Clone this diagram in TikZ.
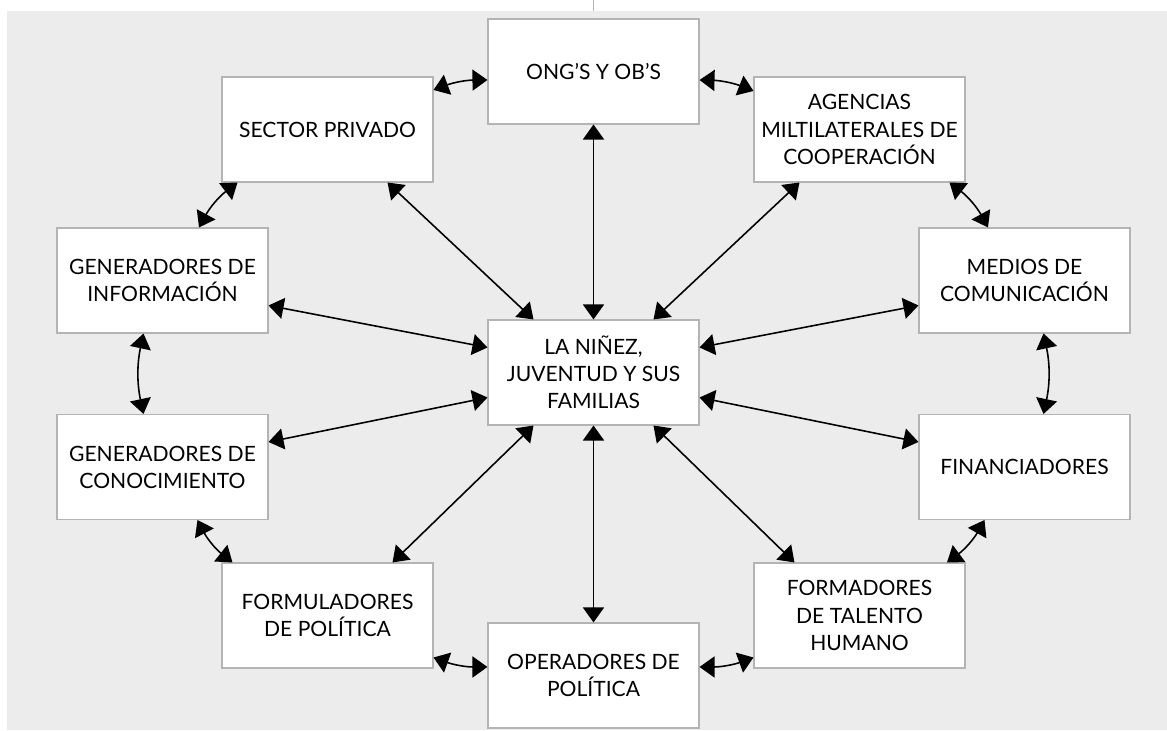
\documentclass[tikz,border=0pt]{standalone}
\usepackage{fontspec}
\setmainfont{Lato}
\usetikzlibrary{arrows.meta}
\definecolor{fondo}{RGB}{235,236,235}
\definecolor{borde}{RGB}{180,180,180}

\begin{document}
\begin{tikzpicture}[
    actor/.style={draw=borde,line width=0.6pt,fill=white,minimum width=4.22cm,minimum height=2.1cm,inner sep=0pt,align=center,font=\fontsize{12}{15.4}\selectfont},
    rel/.style={line width=0.9pt,{Triangle[length=0.3cm,width=0.42cm]}-{Triangle[length=0.3cm,width=0.42cm]}}
]
            \useasboundingbox (0,0) rectangle (23.34,14.62);
            \fill[fondo] (0.14,0.02) rectangle (23.34,14.4);
            \draw[borde] (11.86,14.4) -- (11.86,14.62);

            % actores
            \node[actor] (nin) at (11.87,7.17) {LA NIÑEZ,\\JUVENTUD Y SUS\\FAMILIAS};
            \node[actor] (ong) at (11.87,13.19) {ONG’S Y OB’S};
            \node[actor] (sp) at (6.55,12.03) {SECTOR PRIVADO};
            \node[actor] (ag) at (17.19,12.03) {AGENCIAS\\MILTILATERALES DE\\COOPERACIÓN};
            \node[actor] (gi) at (3.25,9.01) {GENERADORES DE\\INFORMACIÓN};
            \node[actor] (me) at (20.49,9.01) {MEDIOS DE\\COMUNICACIÓN};
            \node[actor] (gc) at (3.25,5.28) {GENERADORES DE\\CONOCIMIENTO};
            \node[actor] (fi) at (20.49,5.28) {FINANCIADORES};
            \node[actor] (fu) at (6.55,2.31) {FORMULADORES\\DE POLÍTICA};
            \node[actor] (fo) at (17.19,2.31) {FORMADORES\\DE TALENTO\\HUMANO};
            \node[actor] (op) at (11.87,1.11) {OPERADORES DE\\POLÍTICA};

            % relaciones con el centro
            \path [rel]([xshift=-1.2cm]nin.north) edge ([xshift=1.2cm]sp.south);
            \path [rel](nin.north) edge (ong.south);
            \path [rel]([xshift=1.2cm]nin.north) edge ([xshift=-1.2cm]ag.south);
            \path [rel]([yshift=0.5cm]nin.west) edge ([yshift=-0.5cm]gi.east);
            \path [rel]([yshift=-0.5cm]nin.west) edge ([yshift=0.5cm]gc.east);
            \path [rel]([yshift=0.5cm]nin.east) edge ([yshift=-0.5cm]me.west);
            \path [rel]([yshift=-0.5cm]nin.east) edge ([yshift=0.5cm]fi.west);
            \path [rel]([xshift=-1.2cm]nin.south) edge ([xshift=1.3cm]fu.north);
            \path [rel](nin.south) edge (op.north);
            \path [rel]([xshift=1.2cm]nin.south) edge ([xshift=-1.3cm]fo.north);

            % anillo exterior
            \path [rel]([yshift=-0.17cm]ong.west) edge[bend right=10] ([yshift=0.79cm]sp.east);
            \path [rel]([xshift=-1.8cm]sp.south) edge[bend right=12] ([xshift=0.73cm]gi.north);
            \path [rel]([xshift=-0.38cm]gi.south) edge[bend right=12] ([xshift=-0.38cm]gc.north);
            \path [rel]([xshift=0.7cm]gc.south) edge[bend right=12] ([xshift=-1.9cm]fu.north);
            \path [rel]([yshift=-0.84cm]fu.east) edge[bend right=10] ([yshift=0.17cm]op.west);
            \path [rel]([yshift=0.17cm]op.east) edge[bend right=10] ([yshift=-0.84cm]fo.west);
            \path [rel]([xshift=1.75cm]fo.north) edge[bend right=12] ([xshift=-0.8cm]fi.south);
            \path [rel]([xshift=0.38cm]fi.north) edge[bend right=12] ([xshift=0.38cm]me.south);
            \path [rel]([xshift=-0.73cm]me.north) edge[bend right=12] ([xshift=1.8cm]ag.south);
            \path [rel]([yshift=0.77cm]ag.west) edge[bend right=10] ([yshift=-0.17cm]ong.east);
        \end{tikzpicture}
\end{document}
